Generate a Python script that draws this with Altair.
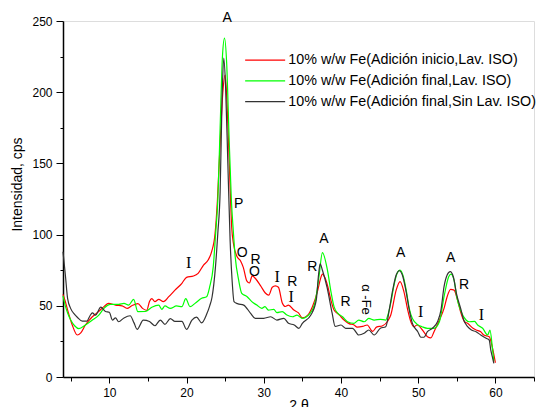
import altair as alt
import pandas as pd

SERIES = [
    "10% w/w Fe(Adición inicio,Lav. ISO)",
    "10% w/w Fe(Adición final,Lav. ISO)",
    "10% w/w Fe(Adición final,Sin Lav. ISO)",
]
COLORS = ["#ff0000", "#00ff00", "#333333"]

red_x = [4.0, 4.3, 4.6, 5.2, 5.85, 6.3, 6.9, 7.8, 8.6, 9.3, 9.9, 10.8, 11.65, 12.3, 12.9, 13.7, 14.3, 14.85,
         15.2, 15.5, 15.9, 16.4, 17.0, 17.7, 18.5, 19.4, 20.0, 20.9, 21.5, 22.2, 22.8, 23.25, 23.7, 24.0,
         24.4, 24.7, 25.0, 25.3, 25.6, 25.85, 26.1, 26.5, 27.0, 27.35, 27.8, 28.15, 28.5, 28.95, 29.6, 30.2,
         30.65, 31.1, 31.5, 31.9, 32.4, 32.8, 33.2, 33.9, 34.5, 35.0, 35.7, 36.3, 37.0, 37.3, 37.6, 37.9,
         38.3, 38.7, 39.1, 39.8, 40.4, 41.05, 41.7, 42.1, 42.8, 43.4, 44.1, 44.6, 45.4, 46.0, 46.45, 47.15,
         47.65, 48.15, 48.65, 49.05, 49.45, 49.85, 50.55, 51.2, 51.65, 52.05, 52.75, 53.35, 53.75, 54.2,
         54.65, 55.1, 55.55, 56.0, 56.4, 57.1, 57.5, 58.1, 58.5, 59.2, 59.6, 60.0]
red_y = [58, 53, 47, 36.5, 29.5, 31, 36.5, 42.3, 45.9, 49.4, 51.7, 50.5, 50, 48.2, 50, 51.5, 48.2, 46.8,
         53, 55, 52.9, 54.5, 52.9, 56.4, 61, 65.8, 70, 70.9, 72.8, 78.6, 82.2, 88, 101, 124,
         170, 200, 212, 185, 140, 105, 93, 85, 81.5, 77, 67.5, 66, 71, 69, 64, 59,
         57.5, 63, 64, 63, 52, 49.5, 50.5, 47, 45, 41.5, 43.5, 49.4, 61, 68, 72.3, 70,
         63.4, 54, 47, 43.5, 40, 37.5, 36.5, 35, 35.5, 36.5, 32, 35, 36, 38.8, 43.5, 61,
         67, 60, 47, 38.8, 35.3, 36.5, 33, 28.3, 27.5, 31.8, 40, 48.2, 56.4, 61.6,
         61, 54, 44.7, 38.8, 37.7, 34.2, 33, 31.8, 29.5, 28.3, 21, 10]

green_x = [4.0, 4.3, 4.6, 5.0, 5.5, 6.06, 6.9, 7.8, 8.64, 9.3, 10.15, 11.2, 11.9, 12.5, 13.15, 13.7, 14.66,
           15.5, 16.4, 16.8, 17.2, 17.9, 18.7, 19.4, 19.9, 20.45, 21.1, 21.96, 22.6, 23.0, 23.46, 23.77,
           24.05, 24.35, 24.65, 24.92, 25.2, 25.5, 25.8, 26.05, 26.3, 26.75, 27.15, 27.85, 28.45, 29.1,
           29.75, 30.15, 30.6, 31.3, 31.7, 32.4, 33.0, 33.7, 34.3, 34.95, 36.0, 36.7, 37.15, 37.6, 38.25,
           38.7, 39.1, 39.6, 40.2, 40.85, 41.7, 42.3, 43.0, 43.6, 44.3, 45.1, 45.8, 46.1, 46.45, 46.85,
           47.25, 47.65, 48.05, 48.45, 48.85, 49.25, 50.0, 50.5, 51.2, 52.05, 52.75, 53.35, 53.95, 54.25,
           54.65, 55.0, 55.55, 56.2, 56.6, 57.3, 57.7, 58.35, 59.0, 59.3, 59.6, 59.8]
green_y = [57, 50, 45, 40, 36, 34, 36.5, 40, 43.5, 48.2, 51, 51, 51.7, 50.5, 54.5, 45.9, 46,
           49, 50.5, 47.5, 49.9, 48.2, 49.9, 49.4, 55, 49.4, 51.7, 55.3, 56.4, 63.4, 77.5, 101,
           124, 175, 225, 238, 220, 170, 125, 103, 84.5, 68, 58.8, 56.4, 52.9, 50.5,
           48.2, 49.4, 47, 47.5, 45.2, 45.9, 43.5, 42.3, 43.5, 41.2, 44.7, 54, 70.4, 87.3, 75,
           60, 49.4, 44.7, 42.3, 38.8, 37.7, 40, 38.8, 41.2, 40, 40.5, 40, 44, 52, 64,
           72.5, 75, 71, 61, 48, 41, 36.5, 35.3, 34.2, 34.2, 38.8, 56.4, 70.4, 72.3,
           68, 56, 46, 40, 38.8, 39, 36.5, 34.2, 29.5, 33, 21, 11]

black_x = [4.0, 4.3, 4.6, 5.0, 5.5, 5.85, 6.5, 7.1, 7.5, 7.8, 8.2, 8.9, 9.5, 10.0, 10.4, 10.8, 11.2, 11.9,
           12.7, 13.2, 13.6, 14.4, 15.2, 15.9, 16.6, 17.2, 17.9, 18.5, 19.4, 20.0, 20.7, 21.3, 21.96, 22.6,
           23.0, 23.3, 23.75, 24.05, 24.35, 24.6, 24.82, 25.05, 25.35, 25.65, 25.9, 26.15, 26.6, 27.4,
           28.3, 28.9, 30.0, 30.9, 31.7, 32.6, 33.2, 33.95, 34.55, 35.0, 36.1, 36.8, 37.1, 37.3, 37.6,
           38.2, 38.85, 39.25, 40.0, 40.6, 41.5, 42.3, 43.0, 43.6, 44.3, 45.1, 45.8, 46.25, 46.7, 47.15,
           47.55, 47.95, 48.4, 48.85, 49.25, 49.95, 50.35, 50.75, 51.2, 51.85, 52.5, 52.95, 53.35, 53.75,
           54.15, 54.55, 54.95, 55.5, 55.9, 56.4, 56.9, 57.5, 58.1, 58.8, 59.2, 59.4, 59.6, 59.8]
black_y = [88, 72, 55, 48, 44, 42, 39.3, 39.3, 43, 45, 43.5, 49, 46, 45.5, 40, 41.5, 38.8, 41.5,
           43, 38, 33.5, 40, 39, 36, 40, 37, 41, 39, 39, 33.5, 40, 42, 38, 44,
           50, 56, 77.5, 101, 130, 195, 224, 205, 150, 95, 68, 53, 51.5, 50.5,
           44.7, 41.2, 41.2, 42.3, 40, 41.2, 37.7, 36.5, 34.2, 37.7, 43.5, 54, 72, 79.5, 75,
           63, 45, 35.5, 36.5, 34.2, 34.2, 29.5, 30.7, 33, 29.5, 34.2, 35.3, 47, 61, 71.6,
           74.6, 71.6, 61, 47, 37.7, 31.8, 27.9, 27.9, 31.8, 34.2, 38.8, 47, 63.4, 71.6,
           74, 70.4, 58.8, 48.2, 40, 35.3, 33, 31.8, 29.5, 27.2, 26, 19, 14.3, 9.6]

# peak annotations
sans_text = ["A", "P", "O", "R", "O", "R", "R", "A", "R", "A", "A", "R"]
sans_x = [25.26, 26.76, 27.2, 28.93, 28.8, 33.69, 36.28, 37.78, 40.6, 47.72, 54.2, 55.93]
sans_y = [252, 121.5, 87, 82.2, 74, 66.7, 77.4, 96.7, 52.9, 87.3, 83.3, 64.6]

serif_text = ["I", "I", "I", "I", "I"]
serif_x = [20.28, 31.74, 33.56, 50.31, 58.19]
serif_y = [79.8, 70, 56.2, 45.9, 43.5]

alpha_text = ["α -Fe"]
alpha_x = [43.19]
alpha_y = [54.4]

x_ticks = [5, 10, 15, 20, 25, 30, 35, 40, 45, 50, 55, 60, 65]
y_ticks = [0, 25, 50, 75, 100, 125, 150, 175, 200, 225, 250]

frames = []
for name, xs, ys in zip(SERIES, [red_x, green_x, black_x], [red_y, green_y, black_y]):
    frames.append(pd.DataFrame({"x": xs, "y": ys, "serie": name}))
df = pd.concat(frames, ignore_index=True)

sans_df = pd.DataFrame({"x": sans_x, "y": sans_y, "t": sans_text})
serif_df = pd.DataFrame({"x": serif_x, "y": serif_y, "t": serif_text})
alpha_df = pd.DataFrame({"x": alpha_x, "y": alpha_y, "t": alpha_text})

xscale = alt.Scale(domain=[4, 65], nice=False, zero=False)
yscale = alt.Scale(domain=[0, 250], nice=False)

xaxis = alt.Axis(
    values=x_ticks, tickCount=40,
    labelExpr="datum.value % 10 == 0 ? datum.label : ''",
    tickSize={"condition": {"test": "datum.value % 10 == 0", "value": 6}, "value": 4},
    grid=False, title="2 θ", titleFontSize=14, titleFontWeight="normal",
    titleBaseline="top", titleY=21,
    labelFontSize=12, labelPadding=4, labelOverlap=False, labelFlush=False,
    domainColor="black", domainWidth=1.5, tickColor="black", labelColor="black", titleColor="black",
)
yaxis = alt.Axis(
    values=y_ticks, tickCount=40,
    labelExpr="datum.value % 50 == 0 ? datum.label : ''",
    tickSize={"condition": {"test": "datum.value % 50 == 0", "value": 7}, "value": 3},
    grid=False, title="Intensidad, cps", titleFontSize=14, titleFontWeight="normal",
    titleBaseline="alphabetic", titleX=-42, titleY=163, titleAngle=270,
    labelFontSize=12, labelPadding=4, labelOverlap=False,
    domainColor="black", domainWidth=1.5, tickColor="black", labelColor="black", titleColor="black",
)

lines = alt.Chart(df).mark_line(interpolate="monotone", strokeWidth=1.2).encode(
    x=alt.X("x:Q", scale=xscale, axis=xaxis),
    y=alt.Y("y:Q", scale=yscale, axis=yaxis),
    color=alt.Color(
        "serie:N",
        scale=alt.Scale(domain=SERIES, range=COLORS),
        legend=alt.Legend(
            orient="none", legendX=195, legendY=32, title=None,
            symbolType="M-4,0H4", symbolSize=100, symbolStrokeWidth=1.3,
            labelFont="Liberation Sans", labelFontSize=14.3, labelColor="black",
            labelOffset=16, rowPadding=5.7, padding=0, labelLimit=400,
        ),
    ),
)

sans = alt.Chart(sans_df).mark_text(font="Liberation Sans", fontSize=14, color="black",
                                    align="center", baseline="middle").encode(
    x=alt.X("x:Q", scale=xscale), y=alt.Y("y:Q", scale=yscale), text="t:N")
serif = alt.Chart(serif_df).mark_text(font="Liberation Serif", fontSize=16, color="black",
                                      align="center", baseline="middle").encode(
    x=alt.X("x:Q", scale=xscale), y=alt.Y("y:Q", scale=yscale), text="t:N")
alpha = alt.Chart(alpha_df).mark_text(font="Liberation Sans", fontSize=13, color="black",
                                      align="center", baseline="middle", angle=90).encode(
    x=alt.X("x:Q", scale=xscale), y=alt.Y("y:Q", scale=yscale), text="t:N")

chart = alt.layer(lines, sans, serif, alpha).properties(
    width=471, height=356,
    autosize=alt.AutoSizeParams(type="none"),
    padding={"left": 55, "top": 13, "right": 6, "bottom": 30},
).configure_view(stroke=None).configure(font="Liberation Sans", background="white")

chart.save("out.html", embed_options={"renderer": "svg", "actions": False})
